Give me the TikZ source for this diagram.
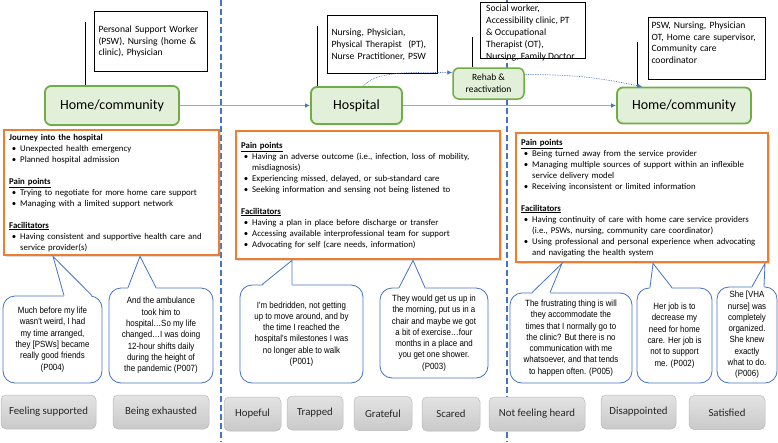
\documentclass[tikz,border=0pt]{standalone}
\usepackage{fontspec}
\setmainfont{Carlito}
\newfontfamily\quotefont[FakeStretch=0.88]{Liberation Sans}
\usepackage{enumitem}
\setlist[itemize]{nosep,leftmargin=11pt,labelsep=4pt,label=\textbullet}
\usetikzlibrary{calc,shadows,arrows.meta}

\definecolor{placegreen}{HTML}{70AD47}
\definecolor{placefill}{HTML}{E2F0D9}
\definecolor{painorange}{HTML}{ED7D31}
\definecolor{pathblue}{HTML}{4472C4}
\definecolor{flowblue}{HTML}{8EA9DB}

%% tail of a quote bubble: node, tip, left x, right x
\newcommand{\quotetail}[4]{%
  \fill[white] ($(#1.north -| #3,0)+(0,1.5)$) -- (#2) -- ($(#1.north -| #4,0)+(0,1.5)$) -- cycle;
  \draw[quoteline] (#1.north -| #3,0) -- (#2) -- (#1.north -| #4,0);}

\begin{document}
\begin{tikzpicture}[x=1pt, y=-1pt, >={Latex[length=5pt,width=4.5pt]},
    place/.style={draw=placegreen, line width=1.8pt, fill=placefill, rounded corners=6pt, font=\fontsize{14}{16}\selectfont},
    rehabbox/.style={place, line width=1.5pt, align=center, inner sep=0pt, font=\fontsize{9.5}{12}\selectfont},
    staffbox/.style={draw=black, line width=1pt, fill=white, anchor=north west, align=left, inner ysep=2pt, inner xsep=4pt,
        font=\fontsize{9.6}{11.8}\selectfont},
    stafftext/.style={anchor=north west, align=left, inner sep=0pt, font=\fontsize{9.6}{11.8}\selectfont},
    painbox/.style={draw=painorange, line width=2.4pt, fill=white, anchor=north west, align=left, inner xsep=5pt, inner ysep=2pt,
        drop shadow={shadow xshift=1.5pt, shadow yshift=-1.5pt, opacity=0.35, fill=black!40}, font=\fontsize{8.8}{11}\selectfont},
    quote/.style={draw=pathblue, line width=0.8pt, fill=white, rounded corners=12pt, align=center, inner sep=2pt,
        font=\quotefont\fontsize{9}{11.3}\selectfont},
    quoteline/.style={draw=pathblue, line width=0.8pt},
    feeling/.style={draw=gray!55, line width=0.5pt, rounded corners=5pt, top color=gray!22, bottom color=gray!42,
        minimum height=34, inner sep=0pt, font=\fontsize{10.8}{12}\selectfont, text=black!85},
    divide/.style={draw=pathblue, line width=1.1pt, dash pattern=on 6pt off 3pt},
    flow/.style={draw=flowblue, line width=1pt, -{Latex[length=5pt,width=4.5pt,color=pathblue]}},
    hop/.style={draw=pathblue, line width=0.7pt, densely dotted, -{Latex[length=5pt,width=4.5pt]}},
    tie/.style={draw=black, line width=1pt}]
\useasboundingbox (0,0) rectangle (778,442);

%% dividers between stages
\draw[divide] (221,0) -- (221,442);
\draw[divide] (507,0) -- (507,442);

%% care providers
\node[staffbox, minimum height=60, text width=105] (sw1) at (94,11)
    {Personal Support Worker\\ (PSW), Nursing (home \&\\ clinic), Physician};
\node[staffbox, minimum height=58, text width=102] (sw2) at (327,15)
    {Nursing, Physician,\\ Physical Therapist\ \ (PT),\\ Nurse Practitioner, PSW};
\node[staffbox, minimum width=105, minimum height=56] (sw3) at (480,2) {};
\node[stafftext] (sw3t) at ($(sw3.north west)+(6,3)$)
    {Social worker,\\ Accessibility clinic, PT\\ \& Occupational\\ Therapist (OT),\\ Nursing, Family Doctor};
\node[staffbox, minimum height=62, text width=111, inner xsep=3pt] (sw4) at (648,17)
    {PSW, Nursing, Physician\\ OT, Home care supervisor,\\ Community care\\ coordinator\\ \mbox{}};

%% stages
\node[place, minimum width=134, minimum height=39] (home1) at (112,105.5) {Home/community};
\node[place, minimum width=91, minimum height=37] (hosp) at (356.5,105.5) {Hospital};
\node[rehabbox, minimum width=71, minimum height=31] (rehab) at (488.5,83.5) {Rehab \&\\ reactivation};
\node[place, minimum width=134, minimum height=36] (home2) at (684,105.5) {Home/community};

\coordinate (tie1) at (85,22);
\coordinate (tie2) at (317,26);
\coordinate (tie3) at (472,37);
\coordinate (tie4) at (637,42);
\draw[tie] (tie1) -- (tie1 |- home1.north);
\draw[tie] (tie2) -- (tie2 |- hosp.north);
\draw[tie] (tie3) -- (tie3 |- rehab.north);
\draw[tie] (tie4) -- (tie4 |- home2.north);

\draw[flow] (home1) -- (hosp);
\draw[flow] (hosp) -- (home2);
\draw[hop] ($(hosp.north)+(7,0)$) .. controls +(12,-16) and +(-35,0) .. ($(rehab.west)+(0,-11)$);
\draw[hop] ($(rehab.east)+(0,-9)$) .. controls +(55,0) and +(-40,-8) .. ($(home2.north west)+(26,0)$);

%% pain points and facilitators
\node[painbox, minimum height=125, text width=205] (jour) at (3,129) {%
  \textbf{Journey into the hospital}
  \begin{itemize}
  \item Unexpected health emergency
  \item Planned hospital admission
  \end{itemize}
  \vspace{11pt}
  \underline{\textbf{Pain points}}
  \begin{itemize}
  \item Trying to negotiate for more home care support
  \item Managing with a limited support network
  \end{itemize}
  \vspace{11pt}
  \underline{\textbf{Facilitators}}
  \begin{itemize}
  \item Having consistent and supportive health care and\\ service provider(s)
  \end{itemize}};
\node[painbox, minimum height=128, text width=254] (stay) at (235,130) {%
  \underline{\textbf{Pain points}}
  \begin{itemize}
  \item Having an adverse outcome (i.e., infection, loss of mobility,\\ misdiagnosis)
  \item Experiencing missed, delayed, or sub-standard care
  \item Seeking information and sensing not being listened to
  \end{itemize}
  \vspace{11pt}
  \underline{\textbf{Facilitators}}
  \begin{itemize}
  \item Having a plan in place before discharge or transfer
  \item Accessing available interprofessional team for support
  \item Advocating for self (care needs, information)
  \end{itemize}};
\node[painbox, minimum height=129, text width=242] (back) at (515,132) {%
  \underline{\textbf{Pain points}}
  \begin{itemize}
  \item Being turned away from the service provider
  \item Managing multiple sources of support within an inflexible\\ service delivery model
  \item Receiving inconsistent or limited information
  \end{itemize}
  \vspace{11pt}
  \underline{\textbf{Facilitators}}
  \begin{itemize}
  \item Having continuity of care with home care service providers\\ (i.e., PSWs, nursing, community care coordinator)
  \item Using professional and personal experience when advocating\\ and navigating the health system
  \end{itemize}};

%% quotes
\node[quote, minimum width=99, minimum height=87] (q1) at (52.5,339.5)
    {Much before my life\\ wasn't weird, I had\\ my time arranged,\\ they [PSWs] became\\ really good friends\\ (P004)};
\node[quote, minimum width=104, minimum height=95] (q2) at (161,335.5)
    {And the ambulance\\ took him to\\ hospital…So my life\\ changed…I was doing\\ 12-hour shifts daily\\ during the height of\\ the pandemic (P007)};
\node[quote, minimum width=123, minimum height=98] (q3) at (301.5,334)
    {I'm bedridden, not getting\\ up to move around, and by\\ the time I reached the\\ hospital's milestones I was\\ no longer able to walk\\ (P001)};
\node[quote, minimum width=108, minimum height=90] (q4) at (434,333)
    {They would get us up in\\ the morning, put us in a\\ chair and maybe we got\\ a bit of exercise…four\\ months in a place and\\ you get one shower.\\ (P003)};
\node[quote, minimum width=122, minimum height=90] (q5) at (571,338)
    {The frustrating thing is will\\ they accommodate the\\ times that I normally go to\\ the clinic? But there is no\\ communication with me\\ whatsoever, and that tends\\ to happen often. (P005)};
\node[quote, minimum width=75, minimum height=95] (q6) at (674.5,335.5)
    {Her job is to\\ decrease my\\ need for home\\ care. Her job is\\ not to support\\ me. (P002)};
\node[quote, minimum width=60, minimum height=96] (q7) at (747,335)
    {She [VHA\\ nurse] was\\ completely\\ organized.\\ She knew\\ exactly\\ what to do.\\ (P006)};

\quotetail{q1}{jour.south -| 53,0}{64}{92}
\quotetail{q2}{jour.south -| 140,0}{128}{156}
\quotetail{q3}{stay.south -| 292,0}{262}{292}
\quotetail{q4}{stay.south -| 413,0}{399}{425}
\quotetail{q5}{back.south -| 562,0}{532}{550}
\quotetail{q6}{back.south -| 653,0}{650}{672}
\quotetail{q7}{back.south -| 765,0}{752}{764}

%% feelings
\node[feeling, minimum width=95] (f1) at (48.5,412) {Feeling supported};
\node[feeling, minimum width=96] (f2) at (161,412) {Being exhausted};
\node[feeling, minimum width=57] (f3) at (252.5,414) {Hopeful};
\node[feeling, minimum width=56] (f4) at (315,413) {Trapped};
\node[feeling, minimum width=58] (f5) at (383,413.5) {Grateful};
\node[feeling, minimum width=58] (f6) at (451,414) {Scared};
\node[feeling, minimum width=96] (f7) at (537,414) {Not feeling heard};
\node[feeling, minimum width=75] (f8) at (638.5,412) {Disappointed};
\node[feeling, minimum width=76] (f9) at (727,412.5) {Satisfied};

\end{tikzpicture}
\end{document}
